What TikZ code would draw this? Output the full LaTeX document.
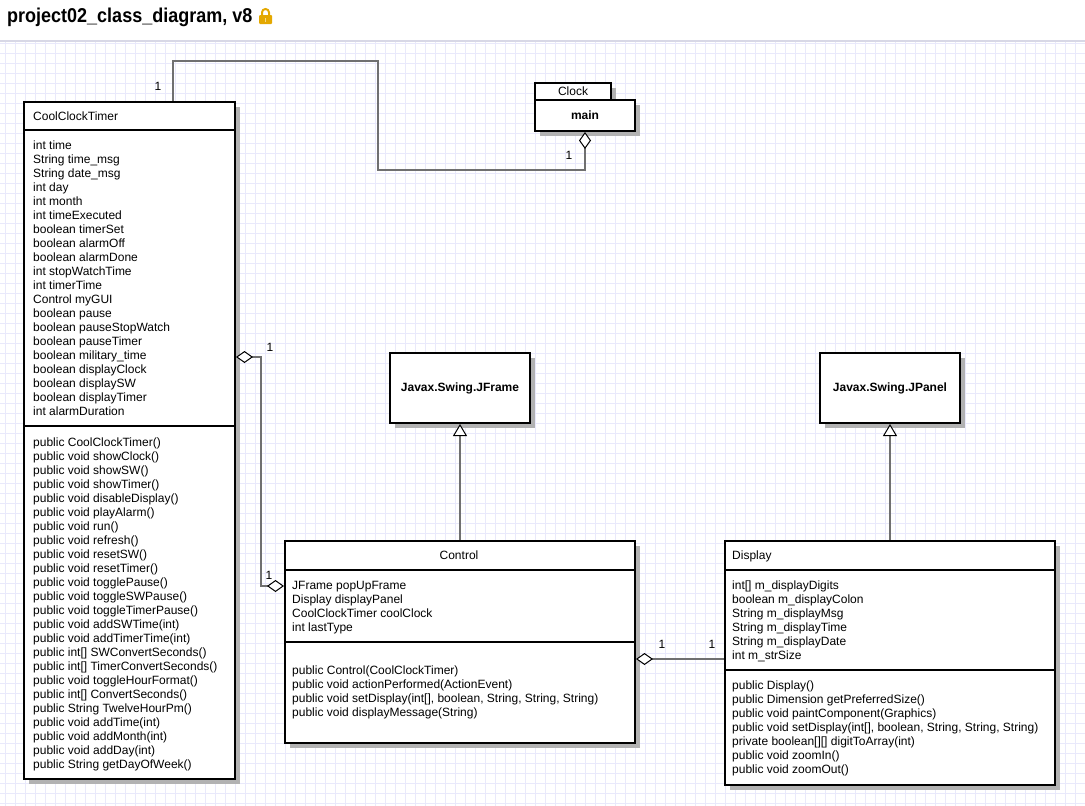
\documentclass[tikz,border=0pt]{standalone}
\usepackage{fontspec}
\setmainfont{Liberation Sans}
\newfontfamily\titlefont[FakeStretch=0.9]{Liberation Sans}
\usepackage{tikz}
\usetikzlibrary{arrows.meta}
\usetikzlibrary{shadows}
\definecolor{gridblue}{RGB}{233,233,251}
\definecolor{rulegray}{RGB}{216,216,230}
\definecolor{linegray}{RGB}{112,112,112}
\definecolor{shadowgray}{RGB}{178,178,178}
\definecolor{lockgold}{RGB}{228,168,0}

\begin{document}
\begin{tikzpicture}[
    x=1pt, y=-1pt,
    font=\fontsize{12}{14}\selectfont,
    classbox/.style={draw,line width=2pt,fill=white,rectangle,inner sep=0pt,anchor=north west,
        drop shadow={shadow xshift=5pt,shadow yshift=-5pt,fill=shadowgray,opacity=1}},
    member/.style={anchor=base west,inner sep=0pt},
    conn/.style={draw=linegray,line width=2pt},
    agg/.tip={Diamond[color=black,fill=white,length=17pt,width=12pt,line width=1pt]},
    gen/.tip={Triangle[color=black,fill=white,length=12pt,width=14pt,line width=1pt]},
]
    \useasboundingbox (0,0) rectangle (1085,806);
    \fill[white] (0,0) rectangle (1085,806);
    \foreach \gx in {5,15,...,1085}
        \draw[gridblue,line width=1pt] (\gx,42) -- (\gx,806);
    \foreach \gy in {43,53,...,803}
        \draw[gridblue,line width=1pt] (0,\gy) -- (1085,\gy);
    \draw[rulegray,line width=2pt] (0,41) -- (1085,41);
    \node (title) at (7,22) [anchor=base west,inner sep=0pt,font=\titlefont\bfseries\fontsize{20}{24}\selectfont] {project02\_class\_diagram, v8};
    \fill[lockgold,rounded corners=1pt] (259,15) rectangle (272,24);
    \draw[lockgold,line width=2pt] (262,15.5) -- (262,12.5) arc (180:0:3.5pt) -- (269,15.5);
    \fill[white!55!lockgold] (264.8,17.5) rectangle (266.2,21.5);

    \node (cct) at (23,101) [classbox,minimum width=211pt,minimum height=677pt] {};
    \draw[line width=2pt] (cct.north west) ++(0,29) -- ++(211,0);
    \draw[line width=2pt] (cct.north west) ++(0,325) -- ++(211,0);
    \node (cctName) at (33,120) [member] {CoolClockTimer};
    \foreach \m [count=\i] in {int time, String time\_msg, String date\_msg, int day, int month,
        int timeExecuted, boolean timerSet, boolean alarmOff, boolean alarmDone, int stopWatchTime,
        int timerTime, Control myGUI, boolean pause, boolean pauseStopWatch, boolean pauseTimer,
        boolean military\_time, boolean displayClock, boolean displaySW, boolean displayTimer,
        int alarmDuration}
        \node (cctAttr\i) at (33,135+14*\i) [member] {\m};
    \foreach \m [count=\i] in {public CoolClockTimer(), public void showClock(), public void showSW(),
        public void showTimer(), public void disableDisplay(), public void playAlarm(),
        public void run(), public void refresh(), public void resetSW(), public void resetTimer(),
        public void togglePause(), public void toggleSWPause(), public void toggleTimerPause(),
        public void addSWTime(int), public void addTimerTime(int), public int[] SWConvertSeconds(),
        public int[] TimerConvertSeconds(), public void toggleHourFormat(), public int[] ConvertSeconds(),
        public String TwelveHourPm(), public void addTime(int), public void addMonth(int),
        public void addDay(int), public String getDayOfWeek()}
        \node (cctOp\i) at (33,432+14*\i) [member] {\m};

    \node (clock) at (534,82) [classbox,minimum width=76pt,minimum height=17pt] {Clock};
    \node (main) at (534,99) [classbox,minimum width=100pt,minimum height=31pt,font=\bfseries\fontsize{12}{14}\selectfont] {main};

    \node (jframe) at (389,352) [classbox,minimum width=140pt,minimum height=70pt,font=\bfseries\fontsize{12}{14}\selectfont] {Javax.Swing.JFrame};
    \node (jpanel) at (819,352) [classbox,minimum width=140pt,minimum height=70pt,font=\bfseries\fontsize{12}{14}\selectfont] {Javax.Swing.JPanel};

    \node (ctrl) at (284,540) [classbox,minimum width=350pt,minimum height=202pt] {};
    \draw[line width=2pt] (ctrl.north west) ++(0,30) -- ++(350,0);
    \draw[line width=2pt] (ctrl.north west) ++(0,102) -- ++(350,0);
    \node (ctrlName) at (459,559) [member,anchor=base] {Control};
    \foreach \m [count=\i] in {JFrame popUpFrame, Display displayPanel, CoolClockTimer coolClock, int lastType}
        \node (ctrlAttr\i) at (292,575+14*\i) [member] {\m};
    \foreach \m [count=\i] in {public Control(CoolClockTimer), public void actionPerformed(ActionEvent),
        {public void setDisplay(int[], boolean, String, String, String)}, public void displayMessage(String)}
        \node (ctrlOp\i) at (292,660+14*\i) [member] {\m};

    \node (disp) at (724,540) [classbox,minimum width=330pt,minimum height=244pt] {};
    \draw[line width=2pt] (disp.north west) ++(0,30) -- ++(330,0);
    \draw[line width=2pt] (disp.north west) ++(0,130) -- ++(330,0);
    \node (dispName) at (732,559) [member] {Display};
    \foreach \m [count=\i] in {int[] m\_displayDigits, boolean m\_displayColon, String m\_displayMsg,
        String m\_displayTime, String m\_displayDate, int m\_strSize}
        \node (dispAttr\i) at (732,575+14*\i) [member] {\m};
    \foreach \m [count=\i] in {public Display(), public Dimension getPreferredSize(),
        public void paintComponent(Graphics), {public void setDisplay(int[], boolean, String, String, String)},
        private boolean[][] digitToArray(int), public void zoomIn(), public void zoomOut()}
        \node (dispOp\i) at (732,675+14*\i) [member] {\m};

    \draw[conn,agg-] (main.south) |- (378,170) -- (378,61) -| ([xshift=150pt]cct.north west);
    \draw[conn,agg-agg] ([yshift=-256pt]cct.north east) -- ++(25,0) |- ([yshift=-46pt]ctrl.north west);
    \draw[conn,agg-] ([yshift=-119pt]ctrl.north east) -- ([yshift=-119pt]disp.north west);
    \draw[conn,-gen] (ctrl.north) -- (jframe.south);
    \draw[conn,-gen] (disp.north) -- (jpanel.south);

    \node (mA) at (158,86) {1};
    \node (mB) at (569,155) {1};
    \node (mC) at (270,347) {1};
    \node (mD) at (269,575) {1};
    \node (mE) at (662,644) {1};
    \node (mF) at (712,644) {1};
\end{tikzpicture}
\end{document}
